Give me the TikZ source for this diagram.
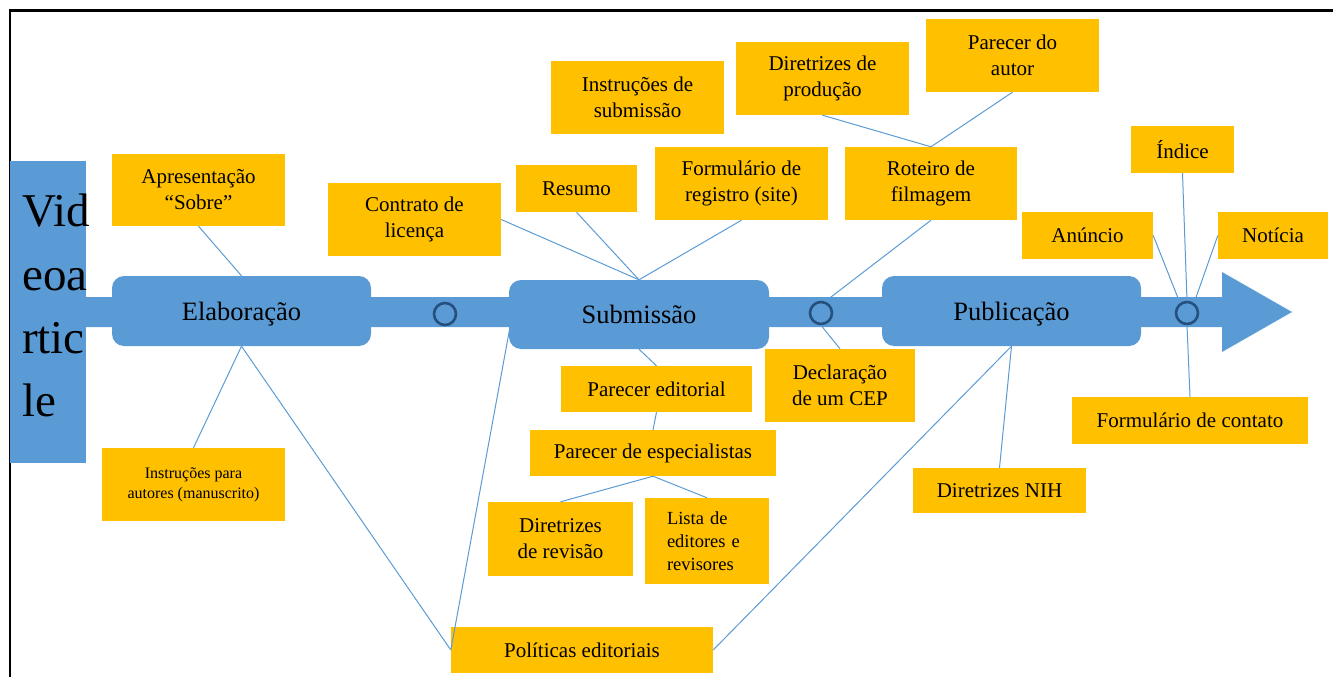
\documentclass[tikz,border=0pt]{standalone}
\usepackage{fontspec}
\setmainfont{Liberation Serif}
\usetikzlibrary{calc}
\definecolor{shaft}{HTML}{5B9BD5}
\definecolor{leaf}{HTML}{FFC000}
\definecolor{ringc}{RGB}{37,80,125}
\begin{document}
\begin{tikzpicture}[x=1pt,y=-1pt,
  sz/.style 2 args={minimum width=#1pt,minimum height=#2pt},
  leafbox/.style={fill=leaf, draw=none, inner sep=0pt, align=center,
    font=\fontsize{21}{26}\selectfont},
  stagebox/.style={fill=shaft, draw=none, rounded corners=12pt, inner sep=0pt,
    text depth=0pt, font=\fontsize{26.5}{30}\selectfont},
  link/.style={draw=shaft, line width=1pt},
  ring/.style={circle, draw=ringc, line width=2.6pt, minimum size=22pt, inner sep=0pt}]
\useasboundingbox (0,0) rectangle (1333,677);

% frame
\draw[line width=2.2pt] (10,677) -- (10,10.5) -- (1333,10.5);

% main shaft with arrow head
\fill[shaft] (86,297) -- (1222,297) -- (1222,272) -- (1292,312)
  -- (1222,352) -- (1222,327) -- (86,327) -- cycle;

% title block
\fill[shaft] (10,161) rectangle (86,463);
\node[anchor=north west, inner sep=0pt, align=left,
  font=\fontsize{47}{63.3}\selectfont] (title) at (22,194) {Vid\\eoa\\rtic\\le};

% stages
\node[stagebox, sz={259}{70}] (elab) at (241.5,311) {Elaboração};
\node[stagebox, sz={260}{69}] (subm) at (639,314.5) {Submissão};
\node[stagebox, sz={259}{70}] (publ) at (1011.5,311) {Publicação};

% leaves
\node[leafbox, sz={173}{72}] (apres) at (198.5,190) {Apresentação\\“Sobre”};
\node[leafbox, sz={173}{73}] (contrato) at (414.5,219.5) {Contrato de\\licença};
\node[leafbox, sz={173}{73}] (instsub) at (637.5,97.5) {Instruções de\\submissão};
\node[leafbox, sz={121}{47}] (resumo) at (576.5,188.5) {Resumo};
\node[leafbox, sz={173}{73}] (formreg) at (741.5,183.5) {Formulário de\\registro (site)};
\node[leafbox, sz={173}{73}] (dirprod) at (822.5,78.5) {Diretrizes de\\produção};
\node[leafbox, sz={173}{73}] (parautor) at (1012.5,55.5) {Parecer do\\autor};
\node[leafbox, sz={172}{73}] (roteiro) at (931,183.5) {Roteiro de\\filmagem};
\node[leafbox, sz={103}{47}] (indice) at (1182.5,149.5) {Índice};
\node[leafbox, sz={131}{47}] (anuncio) at (1087.5,235.5) {Anúncio};
\node[leafbox, sz={110}{47}] (noticia) at (1273,235.5) {Notícia};
\node[leafbox, sz={183}{73}, font=\fontsize{16}{20}\selectfont] (instaut) at (193.5,484.5)
  {Instruções para\\autores (manuscrito)};
\node[leafbox, sz={191}{46}] (pared) at (656.5,389) {Parecer editorial};
\node[leafbox, sz={246}{46}] (paresp) at (653,453) {Parecer de especialistas};
\node[leafbox, sz={145}{74}] (dirrev) at (560.5,539) {Diretrizes\\de revisão};
\node[leafbox, sz={124}{86}, align=left, text width=102pt, inner xsep=0pt,
  font=\fontsize{18.5}{23}\selectfont] (lista) at (707,541)
  {\hspace*{11pt}Lista de\\\hspace*{11pt}editores e\\\hspace*{11pt}revisores};
\node[leafbox, sz={262}{46}] (politicas) at (582,650) {Políticas editoriais};
\node[leafbox, sz={150}{73}] (declar) at (840,385.5) {Declaração\\de um CEP};
\node[leafbox, sz={173}{45}] (nih) at (999.5,490.5) {Diretrizes NIH};
\node[leafbox, sz={236}{47}] (formcont) at (1190,420.5) {Formulário de contato};

% junction rings
\node[ring] (c1) at (445,314) {};
\node[ring] (c2) at (821,313) {};
\node[ring] (c3) at (1187,313) {};

% connectors
\coordinate (sublow) at (510,327);
\draw[link] (apres.south) -- (elab.north);
\draw[link] (elab.south) -- (instaut.north);
\draw[link] (elab.south) -- (politicas.west);
\draw[link] (sublow) -- (politicas.west);
\draw[link] (politicas.east) -- (publ.south);
\draw[link] (publ.south) -- (nih.north);
\draw[link] (contrato.east) -- (subm.north);
\draw[link] (resumo.south) -- (subm.north);
\draw[link] (formreg.south) -- (subm.north);
\draw[link] (dirprod.south) -- (roteiro.north);
\draw[link] (parautor.south) -- (roteiro.north);
\draw[link] (roteiro.south) -- (c2.70);
\draw[link] (c2.south) -- (declar.north);
\draw[link] (subm.south) -- (pared.north);
\draw[link] (pared.south) -- (paresp.north);
\draw[link] (paresp.south) -- (dirrev.north);
\draw[link] (paresp.south) -- (lista.north);
\draw[link] (indice.south) -- (c3.north);
\draw[link] (anuncio.east) -- (c3.125);
\draw[link] (noticia.west) -- (c3.55);
\draw[link] (c3.south) -- (formcont.north);
\end{tikzpicture}
\end{document}
